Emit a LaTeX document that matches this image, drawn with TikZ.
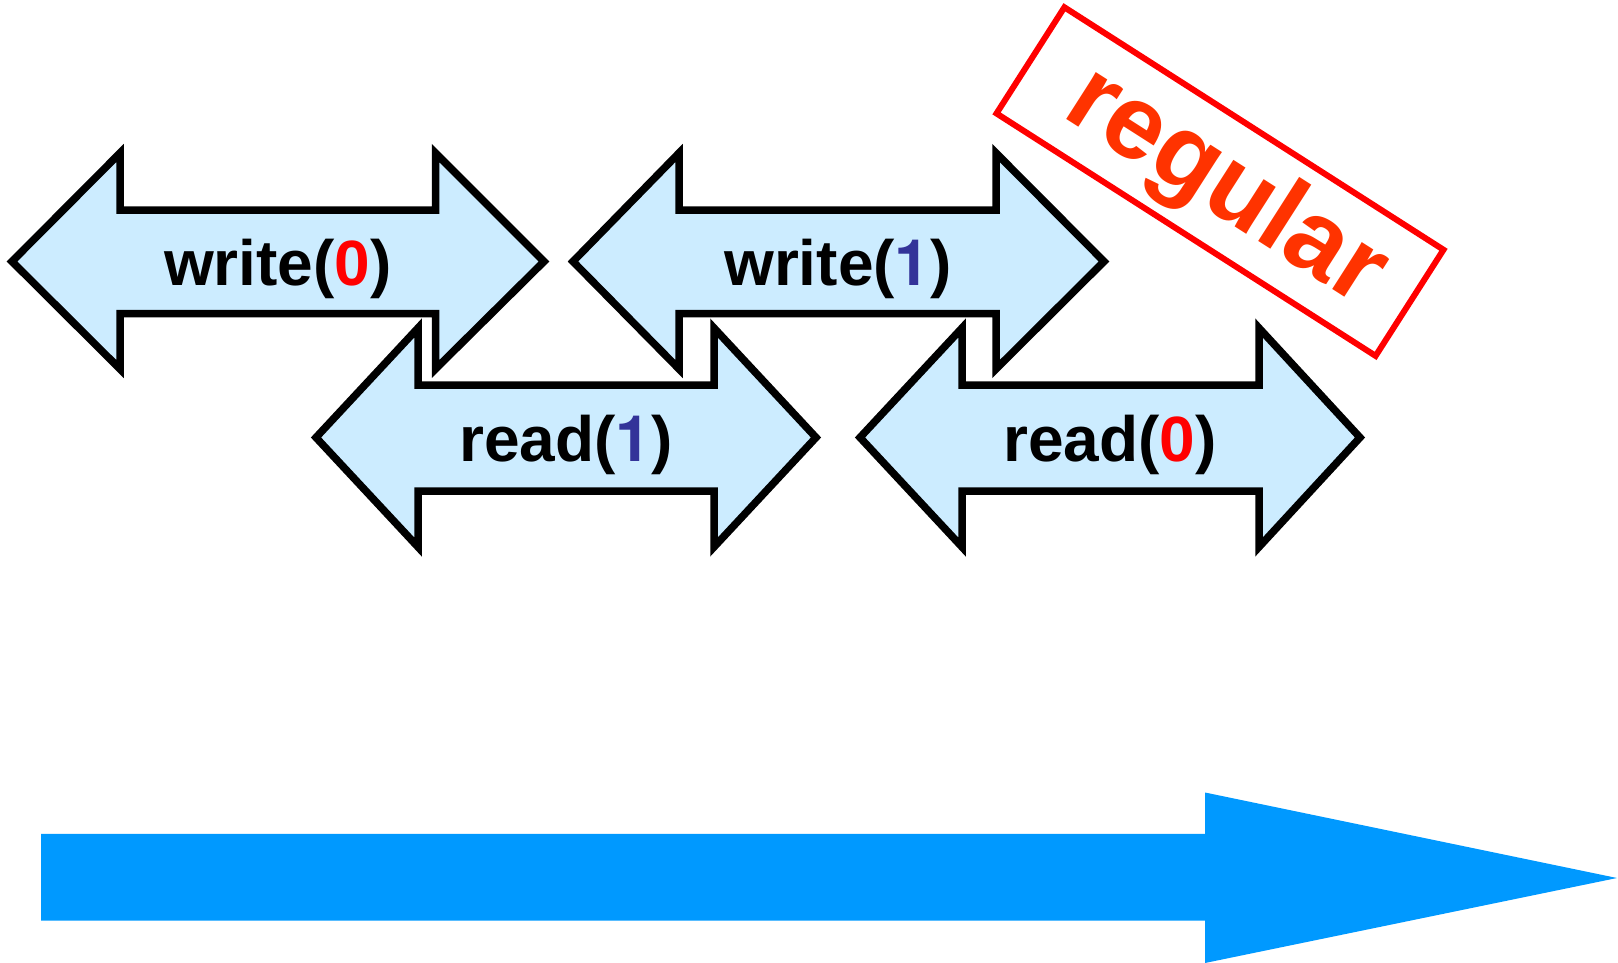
\documentclass[tikz,border=0pt]{standalone}
\usepackage{fontspec}
\setmainfont{Liberation Sans}
\newfontfamily\onefont{TeX Gyre Heros}
\definecolor{arrowfill}{HTML}{CCECFF}
\definecolor{timeblue}{HTML}{0099FF}
\definecolor{digitred}{HTML}{FF0000}
\definecolor{digitblue}{HTML}{333399}
\definecolor{stampred}{HTML}{FF0000}
\definecolor{stamptext}{HTML}{FF3300}
\newcommand\bluedigit{\textcolor{digitblue}{\onefont 1}}
\begin{document}
\begin{tikzpicture}[x=1pt,y=-1pt,line join=miter,
  dblarrow/.style={draw=black,line width=7.5pt,fill=arrowfill},
  lbl/.style={font=\fontsize{64}{70}\selectfont\bfseries,anchor=base,inner sep=0pt}]
\useasboundingbox (0,0) rectangle (1618,963);

% time axis
\fill[timeblue] (41,833.8) -- (1205,833.8) -- (1205,792.5) -- (1617,878)
  -- (1205,963) -- (1205,920.5) -- (41,920.5) -- cycle;

% write(0)
\draw[dblarrow] (12,261.5) -- (120,153) -- (120,210) -- (435.5,210) -- (435.5,153)
  -- (544,261.5) -- (435.5,369) -- (435.5,313.5) -- (120,313.5) -- (120,369) -- cycle;
% write(1)
\draw[dblarrow] (573,261.5) -- (679,153) -- (679,210) -- (996,210) -- (996,153)
  -- (1104,261.5) -- (996,369) -- (996,313.5) -- (679,313.5) -- (679,369) -- cycle;
% read(1)
\draw[dblarrow] (316,437.5) -- (418,328) -- (418,385) -- (714,385) -- (714,328)
  -- (816,437.5) -- (714,547) -- (714,491) -- (418,491) -- (418,547) -- cycle;
% read(0)
\draw[dblarrow] (860,437.5) -- (962,328) -- (962,385) -- (1259,385) -- (1259,328)
  -- (1360,437.5) -- (1259,547) -- (1259,491) -- (962,491) -- (962,547) -- cycle;

\node[lbl] (w0) at (278,285) {write(\textcolor{digitred}{0})};
\node[lbl] (w1) at (838,285) {write(\bluedigit)};
\node[lbl] (r1) at (566,461) {read(\bluedigit)};
\node[lbl] (r0) at (1110,461) {read(\textcolor{digitred}{0})};

% stamp
\node[draw=stampred,line width=6pt,rotate=-32.6,minimum width=450pt,minimum height=126pt,inner sep=0pt]
  (stamp) at (1220,181.6) {};
\node[rotate=-32.6,anchor=base,inner sep=0pt,text=stamptext,
  font=\fontsize{105}{112}\selectfont\bfseries] (reg) at (1210.5,211.2) {regular};
\end{tikzpicture}
\end{document}
